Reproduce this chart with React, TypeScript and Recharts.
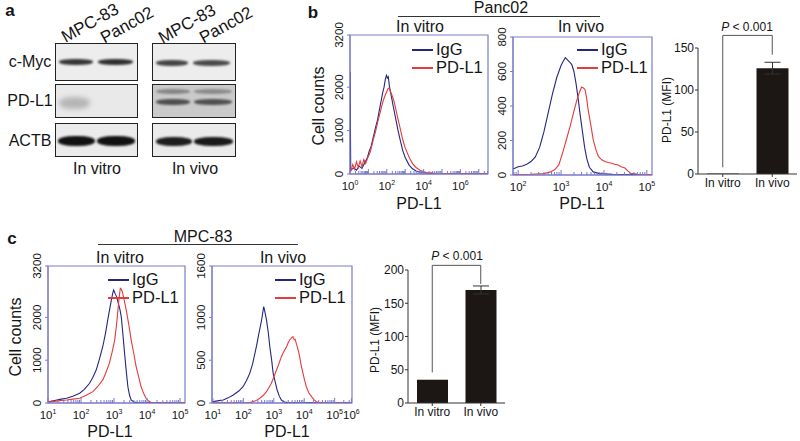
import React from "react";
import {
  LineChart,
  Line,
  XAxis,
  YAxis,
  ReferenceArea,
  ReferenceLine,
  BarChart,
  Bar,
  ErrorBar,
} from "recharts";

const FONT = "'Liberation Sans', Arial, Helvetica, sans-serif";
const IGG = "#262680";
const PDL1 = "#e43b3b";
const BOX = "#7b7bcc";
const INK = "#151515";

// flow histograms: [log10 PD-L1 intensity, cell count]
const bVitroIgG = [
  [0, 2350], [0.04, 90], [0.2, 140], [0.35, 90], [0.5, 180], [0.65, 130], [0.8, 260], [0.95, 380],
  [1.04, 520], [1.15, 640], [1.25, 820], [1.4, 1090], [1.5, 1250], [1.6, 1480], [1.7, 1700],
  [1.77, 1860], [1.85, 2000], [1.92, 2180], [1.98, 2270], [2.03, 2210], [2.08, 2240], [2.15, 2000],
  [2.25, 1780], [2.35, 1560], [2.5, 1240], [2.6, 1020], [2.7, 830], [2.86, 550], [3.0, 380],
  [3.22, 200], [3.4, 120], [3.59, 70], [3.9, 35], [4.14, 22], [4.6, 12], [5.2, 8], [6, 6], [7.5, 5],
];
const bVitroPD = [
  [0.05, 60], [0.15, 220], [0.25, 110], [0.35, 280], [0.45, 150], [0.55, 300], [0.65, 170],
  [0.75, 330], [0.85, 240], [0.95, 360], [1.1, 500], [1.25, 760], [1.4, 1000], [1.5, 1180],
  [1.6, 1350], [1.7, 1520], [1.8, 1680], [1.9, 1800], [2.0, 1900], [2.06, 1960], [2.12, 1980],
  [2.2, 1900], [2.3, 1790], [2.4, 1660], [2.5, 1470], [2.6, 1280], [2.7, 1100], [2.86, 800],
  [3.0, 600], [3.22, 380], [3.4, 240], [3.59, 150], [3.8, 85], [4.14, 35], [4.6, 15], [5.2, 9],
  [6, 6], [7.5, 5],
];
const bVivoIgG = [
  [1.88, 35], [1.95, 42], [2.0, 48], [2.1, 52], [2.2, 62], [2.3, 78], [2.4, 105], [2.5, 160],
  [2.6, 250], [2.7, 360], [2.8, 470], [2.9, 565], [3.0, 635], [3.05, 660], [3.1, 680], [3.15, 668],
  [3.2, 655], [3.25, 640], [3.3, 600], [3.35, 530], [3.4, 440], [3.45, 340], [3.5, 250],
  [3.55, 160], [3.6, 95], [3.66, 45], [3.75, 18], [3.9, 8], [4.2, 4], [4.6, 3], [5.12, 2],
];
const bVivoPD = [
  [1.88, 3], [2.3, 4], [2.6, 8], [2.75, 18], [2.85, 30], [2.95, 60], [3.05, 140], [3.13, 210],
  [3.21, 280], [3.3, 370], [3.37, 435], [3.43, 480], [3.48, 510], [3.52, 505], [3.56, 495],
  [3.6, 440], [3.63, 380], [3.7, 280], [3.75, 205], [3.82, 140], [3.87, 108], [3.95, 88],
  [4.02, 78], [4.1, 72], [4.18, 68], [4.25, 62], [4.33, 58], [4.4, 48], [4.49, 40], [4.55, 25],
  [4.62, 10], [4.8, 4], [5.12, 2],
];
const cVitroIgG = [
  [1.0, 30], [1.2, 60], [1.4, 90], [1.56, 110], [1.75, 160], [1.96, 230], [2.1, 320], [2.26, 460],
  [2.36, 600], [2.46, 770], [2.56, 1030], [2.66, 1320], [2.74, 1620], [2.81, 1940], [2.87, 2200],
  [2.92, 2410], [2.96, 2560], [2.99, 2640], [3.03, 2560], [3.08, 2480], [3.13, 2330],
  [3.18, 2180], [3.22, 2010], [3.27, 1600], [3.32, 1160], [3.37, 750], [3.42, 380], [3.47, 180],
  [3.52, 70], [3.6, 25], [3.7, 10], [4.0, 5], [5.15, 3],
];
const cVitroPD = [
  [1.0, 20], [1.3, 50], [1.56, 70], [1.76, 90], [1.96, 110], [2.16, 180], [2.36, 265], [2.5, 380],
  [2.66, 540], [2.76, 720], [2.86, 930], [2.94, 1180], [3.02, 1470], [3.07, 1780], [3.11, 2100],
  [3.15, 2420], [3.19, 2680], [3.22, 2660], [3.25, 2600], [3.31, 2400], [3.37, 2170],
  [3.45, 1820], [3.52, 1470], [3.6, 1150], [3.67, 850], [3.75, 600], [3.82, 380], [3.9, 220],
  [3.97, 110], [4.05, 45], [4.12, 10], [4.4, 4], [5.15, 2],
];
const cVivoIgG = [
  [0.97, 15], [1.1, 22], [1.2, 28], [1.34, 35], [1.5, 60], [1.67, 93], [1.85, 140], [1.99, 190],
  [2.1, 260], [2.21, 346], [2.3, 450], [2.38, 580], [2.44, 680], [2.49, 775], [2.55, 880],
  [2.6, 970], [2.64, 1060], [2.67, 1125], [2.71, 1060], [2.76, 970], [2.82, 820], [2.87, 658],
  [2.93, 500], [2.98, 346], [3.05, 240], [3.11, 152], [3.18, 80], [3.25, 35], [3.35, 12],
  [3.47, 4], [4, 2], [5.57, 2],
];
const cVivoPD = [
  [0.97, 2], [2.0, 3], [2.21, 5], [2.4, 25], [2.54, 55], [2.66, 90], [2.76, 132], [2.84, 180],
  [2.92, 230], [3.0, 300], [3.09, 385], [3.17, 460], [3.25, 541], [3.33, 600], [3.42, 658],
  [3.47, 700], [3.52, 736], [3.57, 755], [3.6, 770], [3.63, 775], [3.67, 740], [3.7, 745],
  [3.74, 697], [3.8, 620], [3.85, 541], [3.9, 440], [3.96, 346], [4.01, 270], [4.07, 190],
  [4.15, 120], [4.24, 74], [4.32, 40], [4.4, 15], [4.5, 5], [4.56, 2], [5.57, 2],
];

const countTicksB1 = [0, 1000, 2000, 3200];
const countTicksB2 = [0, 200, 400, 600, 800];
const countTicksC1 = [0, 1000, 2000, 3200];
const countTicksC2 = [0, 500, 1000, 1600];

// decade labels: [axis position, exponent shown]
const decB1 = [[0, "0"], [2, "2"], [4, "4"], [6, "6"]];
const decB2 = [[2, "2"], [3, "3"], [4, "4"], [5, "5"]];
const decC1 = [[1, "1"], [2, "2"], [3, "3"], [4, "4"], [5, "5"]];
const decC2 = [[1, "1"], [2, "2"], [3, "3"], [4, "4"], [5, "5"], [5.55, "6"]];

// MFI bars
const barCats = ["In vitro", "In vivo"];
const bMFI = [0.5, 126];
const bErr = [0, 7];
const cMFI = [35, 170];
const cErr = [0, 6];
const mfiTicksB = [0, 50, 100, 150];
const mfiTicksC = [0, 50, 100, 150, 200];

const pts = (arr: number[][]) => arr.map(([x, y]) => ({ x, y }));

function minorTicks(d0: number, d1: number) {
  const out: number[] = [];
  for (let d = Math.floor(d0); d <= Math.ceil(d1); d++) {
    for (let k = 1; k <= 9; k++) {
      const v = d + Math.log10(k);
      if (v >= d0 - 1e-9 && v <= d1 + 1e-9) out.push(+v.toFixed(4));
    }
  }
  return out;
}

function T({ x, y, size = 16, rot = 0, bold = false, children }: any) {
  return (
    <div
      style={{
        position: "absolute",
        left: x,
        top: y,
        transform: `translate(-50%,-50%) rotate(${rot}deg)`,
        fontSize: size,
        fontWeight: bold ? 700 : 400,
        whiteSpace: "nowrap",
        lineHeight: 1,
        color: INK,
      }}
    >
      {children}
    </div>
  );
}

function Legend2({ x, y }: { x: number; y: number }) {
  const row = (yy: number, c: string, label: string) => (
    <>
      <div style={{ position: "absolute", left: x, top: yy - 1, width: 21, height: 2, background: c }} />
      <div style={{ position: "absolute", left: x + 24, top: yy - 9, fontSize: 16.5, lineHeight: 1, color: INK }}>
        {label}
      </div>
    </>
  );
  return (
    <>
      {row(y, IGG, "IgG")}
      {row(y + 18, PDL1, "PD-L1")}
    </>
  );
}

function Hist({ x0, y0, x1, y1, xDomain, yMax, yTicks, labels, igg, pd }: any) {
  const YW = 30, XH = 26, MT = 14, MR = 14;
  const w = x1 - x0 + YW + MR;
  const h = y1 - y0 + MT + XH;
  const labelOf = (v: number) => {
    const hit = labels.find((l: any) => Math.abs(l[0] - v) < 1e-3);
    return hit ? (hit[1] as string) : undefined;
  };
  const ticks = Array.from(new Set([...minorTicks(xDomain[0], xDomain[1]), ...labels.map((l: any) => l[0])])).sort(
    (a, b) => a - b
  );
  const xTick = (p: any) => {
    const v = p.payload.value;
    const lab = labelOf(v);
    const major = Math.abs(v - Math.round(v)) < 1e-6 || lab !== undefined;
    return (
      <g key={`t${v}`}>
        <line x1={p.x} x2={p.x} y1={p.y} y2={p.y - (major ? 5 : 3)} stroke={BOX} strokeWidth={1} />
        {lab !== undefined && (
          <text x={p.x} y={p.y + 16} textAnchor="middle" fontSize={11.5} fill={INK} fontFamily={FONT}>
            <tspan>10</tspan>
            <tspan dy={-5} fontSize={7}>
              {lab}
            </tspan>
          </text>
        )}
      </g>
    );
  };
  const yTick = (p: any) => (
    <g key={`y${p.payload.value}`}>
      <line x1={p.x - 3} x2={p.x} y1={p.y} y2={p.y} stroke={BOX} strokeWidth={1} />
      <text
        x={p.x - 7}
        y={p.y}
        transform={`rotate(-90 ${p.x - 7} ${p.y})`}
        textAnchor="middle"
        fontSize={11.5}
        fill={INK}
        fontFamily={FONT}
      >
        {p.payload.value}
      </text>
    </g>
  );
  return (
    <div style={{ position: "absolute", left: x0 - YW, top: y0 - MT }}>
      <LineChart width={w} height={h} margin={{ top: MT, right: MR, bottom: 0, left: 0 }}>
        <XAxis
          type="number"
          dataKey="x"
          domain={xDomain}
          allowDataOverflow
          ticks={ticks}
          interval={0}
          height={XH}
          tickSize={0}
          tickMargin={0}
          tickLine={false}
          axisLine={{ stroke: BOX }}
          tick={xTick}
        />
        <YAxis
          type="number"
          domain={[0, yMax]}
          allowDataOverflow
          ticks={yTicks}
          interval={0}
          width={YW}
          tickSize={0}
          tickMargin={0}
          tickLine={false}
          axisLine={{ stroke: BOX }}
          tick={yTick}
        />
        <ReferenceArea x1={xDomain[0]} x2={xDomain[1]} y1={0} y2={yMax} fill="none" stroke={BOX} strokeWidth={1.2} ifOverflow="visible" />
        <Line data={pts(igg)} dataKey="y" type="linear" stroke={IGG} strokeWidth={1.1} dot={false} isAnimationActive={false} />
        <Line data={pts(pd)} dataKey="y" type="linear" stroke={PDL1} strokeWidth={1.1} dot={false} isAnimationActive={false} />
      </LineChart>
    </div>
  );
}

function MFIBar({ x0, y0, x1, y1, yMax, yTicks, values, errs, bracket, barSize }: any) {
  const YW = 30, XH = 20, MT = 16, MR = 2;
  const data = barCats.map((name, i) => ({ name, v: values[i], e: errs[i] }));
  return (
    <div style={{ position: "absolute", left: x0 - YW, top: y0 - MT }}>
      <BarChart width={x1 - x0 + YW + MR} height={y1 - y0 + MT + XH} data={data} margin={{ top: MT, right: MR, bottom: 0, left: 0 }}>
        <XAxis
          dataKey="name"
          height={XH}
          tickSize={3}
          tickMargin={1}
          axisLine={{ stroke: "#333" }}
          tickLine={{ stroke: "#333" }}
          tick={{ fontSize: 12, fill: INK, fontFamily: FONT }}
          interval={0}
        />
        <YAxis
          type="number"
          domain={[0, yMax]}
          ticks={yTicks}
          interval={0}
          width={YW}
          tickSize={3}
          tickMargin={1}
          axisLine={{ stroke: "#333" }}
          tickLine={{ stroke: "#333" }}
          tick={{ fontSize: 12, fill: INK, fontFamily: FONT }}
        />
        <Bar dataKey="v" fill="#1c1714" barSize={barSize} isAnimationActive={false}>
          <ErrorBar dataKey="e" width={8} stroke="#333" strokeWidth={1} />
        </Bar>
        <ReferenceLine segment={[{ x: "In vitro", y: bracket[0] }, { x: "In vitro", y: bracket[1] }]} stroke="#555" ifOverflow="visible" />
        <ReferenceLine segment={[{ x: "In vitro", y: bracket[1] }, { x: "In vivo", y: bracket[1] }]} stroke="#555" ifOverflow="visible" />
        <ReferenceLine segment={[{ x: "In vivo", y: bracket[1] }, { x: "In vivo", y: bracket[2] }]} stroke="#555" ifOverflow="visible" />
      </BarChart>
    </div>
  );
}

function Box({ x, y, w, h, bg }: any) {
  return (
    <div
      style={{
        position: "absolute",
        left: x,
        top: y,
        width: w,
        height: h,
        background: bg,
        border: "1.5px solid #222",
        boxSizing: "border-box",
      }}
    />
  );
}

function Band({ x0, x1, y, h, c, blur = 1.2 }: any) {
  return (
    <div
      style={{
        position: "absolute",
        left: x0,
        top: y - h / 2,
        width: x1 - x0,
        height: h,
        background: c,
        borderRadius: "45%",
        filter: `blur(${blur}px)`,
      }}
    />
  );
}

function Blot() {
  return (
    <>
      <T x={10} y={10} size={17} bold>a</T>
      <T x={90} y={23} size={17} rot={-29}>MPC-83</T>
      <T x={127} y={25} size={17} rot={-29}>Panc02</T>
      <T x={187} y={24} size={17} rot={-29}>MPC-83</T>
      <T x={226} y={25} size={17} rot={-29}>Panc02</T>
      <T x={30} y={62}>c-Myc</T>
      <T x={30} y={101}>PD-L1</T>
      <T x={30} y={141}>ACTB</T>
      <Box x={55} y={43} w={83} h={38} bg="#ededed" />
      <Box x={152} y={43} w={84} h={38} bg="#ededed" />
      <Box x={55} y={84} w={83} h={34} bg="#e9e9e9" />
      <Box x={152} y={84} w={84} h={34} bg="#cacaca" />
      <Box x={55} y={123} w={83} h={34} bg="#ebebeb" />
      <Box x={152} y={123} w={84} h={34} bg="#ebebeb" />
      <Band x0={59} x1={93} y={62} h={6} c="#363636" />
      <Band x0={98} x1={133} y={62} h={6} c="#303030" />
      <Band x0={156} x1={188} y={63} h={6} c="#444" />
      <Band x0={193} x1={230} y={63} h={6} c="#4a4a4a" />
      <Band x0={59} x1={90} y={103} h={12} c="#b5b5b5" blur={2.5} />
      <Band x0={156} x1={190} y={91} h={5} c="#858585" />
      <Band x0={194} x1={232} y={91} h={5} c="#8a8a8a" />
      <Band x0={156} x1={190} y={102} h={6} c="#4e4e4e" />
      <Band x0={194} x1={232} y={102} h={6} c="#505050" />
      <Band x0={58} x1={95} y={141} h={10} c="#111" />
      <Band x0={97} x1={135} y={141} h={10} c="#121212" />
      <Band x0={156} x1={192} y={141} h={9} c="#1e1e1e" />
      <Band x0={194} x1={233} y={141} h={9} c="#1a1a1a" />
      <T x={97} y={169}>In vitro</T>
      <T x={195} y={169}>In vivo</T>
    </>
  );
}

export default function App() {
  return (
    <div
      style={{
        position: "absolute",
        left: 0,
        top: 0,
        width: 800,
        height: 441,
        overflow: "hidden",
        background: "#fff",
        fontFamily: FONT,
      }}
    >
      <Blot />

      {/* panel b */}
      <T x={313} y={12} size={17} bold>b</T>
      <T x={501} y={8}>Panc02</T>
      <div style={{ position: "absolute", left: 398, top: 16, width: 202, height: 1, background: "#333" }} />
      <T x={420} y={27}>In vitro</T>
      <T x={581} y={27}>In vivo</T>
      <T x={319} y={106} rot={-90}>Cell counts</T>
      <Hist x0={350} y0={35} x1={488} y1={174} xDomain={[0, 7.5]} yMax={3200} yTicks={countTicksB1}
        labels={decB1} igg={bVitroIgG} pd={bVitroPD} />
      <Hist x0={513} y0={37} x1={652} y1={175} xDomain={[1.88, 5.12]} yMax={800} yTicks={countTicksB2}
        labels={decB2} igg={bVivoIgG} pd={bVivoPD} />
      <Legend2 x={412} y={50} />
      <Legend2 x={577} y={50} />
      <T x={419} y={204}>PD-L1</T>
      <T x={582} y={204}>PD-L1</T>
      <T x={667} y={110} size={12} rot={-90}>PD-L1 (MFI)</T>
      <T x={747} y={27} size={12}><i>P</i> &lt; 0.001</T>
      <MFIBar x0={698} y0={48} x1={797} y1={174} yMax={150} yTicks={mfiTicksB} values={bMFI} errs={bErr}
        bracket={[8, 165, 142]} barSize={32} />

      {/* panel c */}
      <T x={12} y={238} size={17} bold>c</T>
      <T x={203} y={237}>MPC-83</T>
      <div style={{ position: "absolute", left: 98, top: 244, width: 200, height: 1, background: "#333" }} />
      <T x={120} y={258}>In vitro</T>
      <T x={283} y={258}>In vivo</T>
      <T x={16} y={337} rot={-90}>Cell counts</T>
      <Hist x0={48} y0={266} x1={185} y1={403} xDomain={[1, 5.15]} yMax={3200} yTicks={countTicksC1}
        labels={decC1} igg={cVitroIgG} pd={cVitroPD} />
      <Hist x0={212} y0={266} x1={352} y1={403} xDomain={[0.97, 5.57]} yMax={1600} yTicks={countTicksC2}
        labels={decC2} igg={cVivoIgG} pd={cVivoPD} />
      <Legend2 x={108} y={280} />
      <Legend2 x={275} y={280} />
      <T x={110} y={432}>PD-L1</T>
      <T x={287} y={432}>PD-L1</T>
      <T x={375} y={340} size={12} rot={-90}>PD-L1 (MFI)</T>
      <T x={457} y={256} size={12}><i>P</i> &lt; 0.001</T>
      <MFIBar x0={408} y0={270} x1={505} y1={403} yMax={200} yTicks={mfiTicksC} values={cMFI} errs={cErr}
        bracket={[46, 207, 179]} barSize={31} />
    </div>
  );
}
